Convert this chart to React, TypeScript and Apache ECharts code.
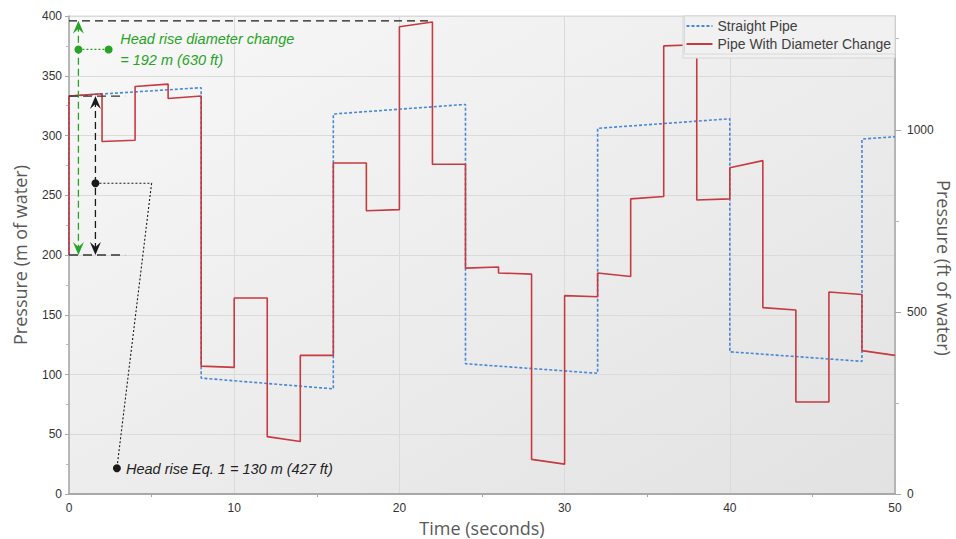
import { useEffect, useRef } from "react";
import * as echarts from "echarts";

// ---- Data ----
const INITIAL_HEAD = 200; // m, steady state before t = 0

const straightTimes = [0, 8, 16, 24, 32, 40, 48, 50];
const straightStart = [333, 97, 318, 109, 306, 119, 297];
const straightEnd = [340, 88, 326, 101, 314, 111, 299];

const diameterTimes = [0, 2, 4, 6, 8, 10, 12, 14, 16, 18, 20, 22, 24, 26, 28, 30, 32, 34, 36, 38, 40, 42, 44, 46, 48, 50];
const diameterStart = [333, 295, 341, 331, 107, 164, 48, 116, 277, 237, 391, 276, 189, 185, 29, 166, 185, 247, 375, 246, 273, 156, 77, 169, 120];
const diameterEnd = [335, 296, 343, 333, 106, 164, 44, 116, 277, 238, 395, 276, 190, 184, 25, 165, 182, 249, 376, 247, 279, 154, 77, 167, 116];

const seriesNames = ["Straight Pipe", "Pipe With Diameter Change"];
const rightAxisTitle = "Pressure (ft of water)";
const rightTickValues = [0, 500, 1000];
const rightMinorTickValues = [250, 750, 1250];
const M_TO_FT = 1 / 0.3048;

// annotation anchors (data space: [time s, pressure m])
const peakLevel = 396;
const peakLineEnd = 22;
const refLevels = [333, 200];
const refLineEnd = 3.4;
const greenArrowTime = 0.57;
const blackArrowTime = 1.6;
const greenDots = [[0.57, 372], [2.4, 372]];
const blackDot = [1.6, 260];
const blackElbow = [5, 260];
const blackLabelDot = [2.9, 21.5];
const greenTextLines = ["Head rise diameter change", "= 192 m (630 ft)"];
const greenTextAnchor = [3.1, 381];
const greenTextLine2 = 363;
const blackText = "Head rise Eq. 1 = 130 m (427 ft)";
const blackTextAnchor = [3.45, 21];

function buildSteps(times: number[], starts: number[], ends: number[], initial: number) {
  const pts: number[][] = [[times[0], initial]];
  for (let i = 0; i < starts.length; i++) {
    pts.push([times[i], starts[i]]);
    pts.push([times[i + 1], ends[i]]);
  }
  return pts;
}

export default function App() {
  const ref = useRef<HTMLDivElement>(null);
  useEffect(() => {
    if (!ref.current) return;
    const chart = echarts.init(ref.current, undefined, { renderer: "svg" });
    const tickFont = { fontFamily: "Liberation Sans, Arial, sans-serif", fontSize: 12, color: "#333" };
    const nameFont = { fontFamily: "Open Sans, sans-serif", fontSize: 18, color: "#595959" };
    chart.setOption({
      animation: false,
      backgroundColor: "#ffffff",
      grid: {
        left: 69,
        right: 61,
        top: 16,
        bottom: 45,
        outerBoundsMode: "none",
        containLabel: false,
        show: true,
        borderColor: "#d6d6d6",
        borderWidth: 1,
        backgroundColor: {
          type: "linear",
          x: 0,
          y: 0,
          x2: 1,
          y2: 1,
          colorStops: [
            { offset: 0, color: "#f8f8f8" },
            { offset: 1, color: "#e2e2e2" },
          ],
        },
      },
      legend: {
        data: seriesNames,
        orient: "vertical",
        right: 61,
        top: 16,
        z: 30,
        padding: [3, 4, 3, 1],
        itemGap: 4,
        itemWidth: 26,
        itemHeight: 16,
        itemStyle: { opacity: 0, borderWidth: 0 },
        backgroundColor: "#f1f1f1",
        borderColor: "#d8d8d8",
        borderWidth: 1,
        textStyle: { fontFamily: "Liberation Sans, Arial, sans-serif", fontSize: 14, color: "#404040" },
      },
      xAxis: {
        type: "value",
        min: 0,
        max: 50,
        interval: 10,
        name: "Time (seconds)",
        nameLocation: "middle",
        nameGap: 23,
        nameTextStyle: nameFont,
        axisLine: { show: true, lineStyle: { color: "#a8a8a8", width: 2 } },
        axisTick: { show: false },
        minorTick: { show: true, splitNumber: 2, length: 3, lineStyle: { color: "#a8a8a8" } },
        axisLabel: { ...tickFont, margin: 8 },
        splitLine: { show: true, lineStyle: { color: "#dadada", width: 1 } },
      },
      yAxis: [
        {
          type: "value",
          min: 0,
          max: 400,
          interval: 50,
          name: "Pressure (m of water)",
          nameLocation: "middle",
          nameGap: 40,
          nameTextStyle: nameFont,
          axisLine: { show: true, lineStyle: { color: "#a8a8a8", width: 1.5 } },
          axisTick: { show: true, length: 4, lineStyle: { color: "#a8a8a8" } },
          minorTick: { show: true, splitNumber: 2, length: 3, lineStyle: { color: "#b8b8b8" } },
          axisLabel: { ...tickFont, margin: 7 },
          splitLine: { show: true, lineStyle: { color: "#dadada", width: 1 } },
        },
        {
          type: "value",
          position: "right",
          min: 0,
          max: 400 * M_TO_FT,
          interval: 500,
          axisLine: { show: true, lineStyle: { color: "#a8a8a8", width: 1.5 } },
          axisTick: { show: true, length: 6, customValues: rightTickValues, lineStyle: { color: "#a8a8a8" } },
          axisLabel: { ...tickFont, margin: 12, customValues: rightTickValues, formatter: (v: number) => String(Math.round(v)) },
          splitLine: { show: false },
        },
        {
          type: "value",
          position: "right",
          min: 0,
          max: 400 * M_TO_FT,
          axisLine: { show: false },
          axisTick: { show: true, length: 4, customValues: rightMinorTickValues, lineStyle: { color: "#b8b8b8" } },
          axisLabel: { show: false },
          splitLine: { show: false },
        },
      ],
      series: [
        {
          name: seriesNames[0],
          type: "line",
          yAxisIndex: 0,
          symbol: "none",
          data: buildSteps(straightTimes, straightStart, straightEnd, INITIAL_HEAD),
          lineStyle: { color: "#4a86d6", width: 1.6, type: [3, 2] },
          itemStyle: { color: "#4a86d6" },
          z: 3,
        },
        {
          name: seriesNames[1],
          type: "line",
          yAxisIndex: 0,
          symbol: "none",
          data: buildSteps(diameterTimes, diameterStart, diameterEnd, INITIAL_HEAD),
          lineStyle: { color: "#c63a40", width: 1.6, type: "solid" },
          itemStyle: { color: "#c63a40" },
          z: 4,
        },
      ],
    });

    const px = (t: number, v: number) => chart.convertToPixel({ gridIndex: 0 }, [t, v]) as number[];
    const green = "#27a327";
    const dark = "#1a1a1a";
    const hline = (t0: number, t1: number, v: number, color: string, dash: number[]) => {
      const a = px(t0, v);
      const b = px(t1, v);
      return { type: "line", shape: { x1: a[0], y1: a[1], x2: b[0], y2: b[1] }, style: { stroke: color, lineWidth: 1.3, lineDash: dash }, z: 10 };
    };
    const arrow = (t: number, vTop: number, vBottom: number, color: string) => {
      const top = px(t, vTop);
      const bot = px(t, vBottom);
      const x = top[0];
      const els: any[] = [
        { type: "line", shape: { x1: x, y1: top[1] + 4, x2: x, y2: bot[1] - 4 }, style: { stroke: color, lineWidth: 1.3, lineDash: [7, 4] }, z: 10 },
        { type: "polygon", shape: { points: [[x, top[1]], [x - 5.5, top[1] + 13], [x, top[1] + 8], [x + 5.5, top[1] + 13]] }, style: { fill: color }, z: 11 },
        { type: "polygon", shape: { points: [[x, bot[1]], [x - 5.5, bot[1] - 13], [x, bot[1] - 8], [x + 5.5, bot[1] - 13]] }, style: { fill: color }, z: 11 },
      ];
      return els;
    };
    const gd0 = px(greenDots[0][0], greenDots[0][1]);
    const gd1 = px(greenDots[1][0], greenDots[1][1]);
    const bd = px(blackDot[0], blackDot[1]);
    const be = px(blackElbow[0], blackElbow[1]);
    const bl = px(blackLabelDot[0], blackLabelDot[1]);
    const gt1 = px(greenTextAnchor[0], greenTextAnchor[1]);
    const gt2 = px(greenTextAnchor[0], greenTextLine2);
    const bt = px(blackTextAnchor[0], blackTextAnchor[1]);
    const italic = "italic 14.5px 'Liberation Sans', Arial, sans-serif";

    const graphic: any[] = [
      // legend box backdrop (covers the lines beneath the legend, as in the reference)
      { type: "rect", shape: { x: 683, y: 16, width: 212, height: 42 }, style: { fill: "#f1f1f1", stroke: "#d6d6d6", lineWidth: 1 }, z: 25 },
      hline(0, peakLineEnd, peakLevel, dark, [8, 5]),
      ...refLevels.map((v) => hline(0, refLineEnd, v, "#333", [9, 5])),
      ...arrow(greenArrowTime, peakLevel, refLevels[1], green),
      ...arrow(blackArrowTime, refLevels[0], refLevels[1], dark),
      { type: "line", shape: { x1: gd0[0], y1: gd0[1], x2: gd1[0], y2: gd1[1] }, style: { stroke: green, lineWidth: 1.2, lineDash: [2, 2] }, z: 10 },
      { type: "circle", shape: { cx: gd0[0], cy: gd0[1], r: 4 }, style: { fill: green }, z: 12 },
      { type: "circle", shape: { cx: gd1[0], cy: gd1[1], r: 4 }, style: { fill: green }, z: 12 },
      { type: "polyline", shape: { points: [bd, be, bl] }, style: { stroke: dark, lineWidth: 1.1, lineDash: [2, 2], fill: null }, z: 10 },
      { type: "circle", shape: { cx: bd[0], cy: bd[1], r: 4 }, style: { fill: dark }, z: 12 },
      { type: "circle", shape: { cx: bl[0], cy: bl[1], r: 4 }, style: { fill: dark }, z: 12 },
      { type: "text", x: gt1[0], y: gt1[1], style: { text: greenTextLines[0], font: italic, fill: green, verticalAlign: "middle", align: "left" }, z: 12 },
      { type: "text", x: gt2[0], y: gt2[1], style: { text: greenTextLines[1], font: italic, fill: green, verticalAlign: "middle", align: "left" }, z: 12 },
      { type: "text", x: bt[0], y: bt[1], style: { text: blackText, font: italic, fill: "#222", verticalAlign: "middle", align: "left" }, z: 12 },
      {
        type: "text",
        x: 944,
        y: 268,
        rotation: -Math.PI / 2,
        style: { text: rightAxisTitle, font: "18px 'Open Sans', sans-serif", fill: "#595959", align: "center", verticalAlign: "middle" },
        z: 12,
      },
    ];
    chart.setOption({ graphic });

    return () => chart.dispose();
  }, []);
  return <div ref={ref} style={{ position: "absolute", left: 0, top: 0, width: 956, height: 539 }} />;
}
